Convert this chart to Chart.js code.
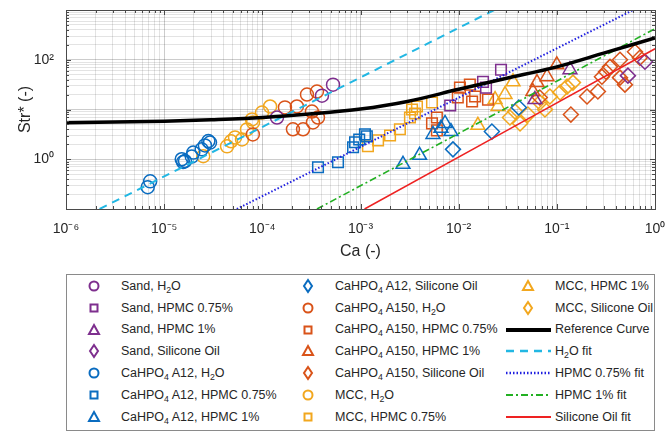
<!DOCTYPE html>
<html>
<head>
<meta charset="utf-8">
<script src="https://cdn.jsdelivr.net/npm/chart.js@4.4.1/dist/chart.umd.min.js"></script>
<style>
  html, body { margin: 0; padding: 0; background: #fff; }
  #wrap { position: relative; width: 667px; height: 431px; overflow: hidden; }
  #chart { position: absolute; left: 0; top: 0; }
  #legend {
    position: absolute; left: 66px; top: 274px; width: 589px; height: 157px;
    box-sizing: border-box; border: 1px solid #8a8a8a; background: #fff;
    display: grid; grid-auto-flow: column;
    grid-template-columns: 214px 220px 1fr;
    grid-template-rows: repeat(7, 21.8px);
    font-family: 'Liberation Sans', Arial, sans-serif; font-size: 12.5px; color: #262626;
  }
  .item { display: flex; align-items: center; white-space: nowrap; }
  .item svg { flex: none; }
  .item sub { font-size: 70%; vertical-align: -3px; line-height: 0; }
</style>
</head>
<body>
<div id="wrap">
  <canvas id="chart" width="667" height="262"></canvas>
  <div id="legend"></div>
</div>
<script>
(function() {
  'use strict';

  // axis ticks
  var xTickValues = [1e-6, 1e-5, 1e-4, 1e-3, 1e-2, 1e-1, 1];
  var xTickLabels = ['10⁻⁶', '10⁻⁵', '10⁻⁴', '10⁻³', '10⁻²', '10⁻¹', '10⁰'];
  var yTickValues = [1, 100];
  var yTickLabels = ['10⁰', '10²'];

  // [Ca, Str*] pairs
  var sandH2O = [[1.41e-4, 6.9], [4.05e-4, 19], [5.25e-4, 31.6]];
  var sandHPMC075 = [[8.2e-3, 12], [1.77e-2, 36], [1.9e-2, 27.5], [2.7e-2, 63]];
  var sandHPMC1 = [[5.98e-2, 15.8], [0.136, 63]];
  var sandSil = [[0.53, 47.9], [0.79, 91]];

  var a12H2O = [[6.8e-6, 0.275], [7.2e-6, 0.36], [1.51e-5, 1.0], [1.56e-5, 0.88], [1.63e-5, 0.92],
    [1.91e-5, 1.13], [1.98e-5, 1.36], [2.41e-5, 1.58], [2.6e-5, 1.9], [2.82e-5, 2.32], [2.93e-5, 2.16]];
  var a12HPMC075 = [[3.69e-4, 0.69], [5.9e-4, 0.87], [8.4e-4, 1.74], [8.8e-4, 2.19], [9.7e-4, 2.5],
    [1.11e-3, 3.16], [1.16e-3, 2.88]];
  var a12HPMC1 = [[2.71e-3, 0.79], [4.0e-3, 1.2], [5.47e-3, 3.16], [6.6e-3, 4.2], [7.26e-3, 5.25], [8.35e-3, 3.6]];
  var a12Sil = [[8.75e-3, 1.58], [2.18e-2, 3.6], [4.1e-2, 11]];

  var a150H2O = [[8.0e-5, 3.16], [1.7e-4, 11], [2.05e-4, 4.0], [2.25e-4, 11.5], [2.6e-4, 4.0],
    [2.85e-4, 20], [3.2e-4, 9.1], [3.28e-4, 5.5], [3.6e-4, 23], [3.69e-4, 6.9]];
  var a150HPMC075 = [[5.35e-3, 5.25], [6.0e-3, 6.9], [6.0e-3, 3.8], [9.8e-3, 17.4], [1.03e-2, 27.5],
    [1.3e-2, 31.6], [1.37e-2, 14.5], [1.47e-2, 18.2], [1.99e-2, 15.8]];
  var a150HPMC1 = [[5.7e-2, 23], [6.28e-2, 34.7], [7.94e-2, 45.7], [0.1, 79]];
  var a150Sil = [[6.7e-2, 17.4], [0.139, 7.9], [0.203, 18.2], [0.262, 23], [0.288, 45.7], [0.317, 57.5],
    [0.348, 72], [0.44, 100], [0.44, 43.7], [0.494, 31.6], [0.625, 145], [0.70, 110]];

  var mccH2O = [[2.5e-5, 1.15], [4.37e-5, 1.82], [4.8e-5, 2.3], [5.27e-5, 2.75], [6.21e-5, 2.5],
    [6.98e-5, 3.98], [7.85e-5, 6.3], [8.04e-5, 5.5], [9.93e-5, 8.7], [1.2e-4, 11.5]];
  var mccHPMC075 = [[1.19e-3, 1.82], [1.51e-3, 2.4], [2.0e-3, 3.0], [2.52e-3, 4.0], [3.19e-3, 6.9],
    [3.35e-3, 10], [3.59e-3, 8.3], [3.76e-3, 11.5], [5.35e-3, 13.8]];
  var mccHPMC1 = [[1.57e-2, 4.8], [2.35e-2, 15.8], [2.52e-2, 11.5], [2.97e-2, 20], [3.58e-2, 36]];
  var mccSil = [[3.33e-2, 6.9], [3.75e-2, 9.1], [4.22e-2, 5.25], [5.08e-2, 7.9], [6.73e-2, 13.8],
    [7.57e-2, 10], [8.5e-2, 18.2], [0.108, 21.9], [0.127, 28.8], [0.146, 34.7]];

  // reference curve and fits
  var refCa = [1e-6, 1e-5, 3e-5, 1e-4, 3e-4, 1e-3, 3e-3, 1e-2, 3e-2, 1e-1, 3e-1, 1];
  var refStr = [5.42, 5.83, 6.25, 6.92, 8.1, 10.2, 14.5, 25.5, 42, 72, 136, 275];
  var h2oFit = [[2.2e-6, 0.1], [2.3e-2, 1000]];
  var hpmc075Fit = [[5.5e-5, 0.1], [0.6, 1000]];
  var hpmc1Fit = [[3.6e-4, 0.1], [1, 420]];
  var silFit = [[1.1e-3, 0.1], [1, 166]];

  var colors = {
    sand: '#7E2F8E',
    a12: '#0A6CC0',
    a150: '#D95319',
    mcc: '#F2A71E',
    text: '#262626'
  };

  var radius = { circle: 6.5, rect: 7.5, triangle: 8, rectRot: 7.5 };

  function pts(arr) {
    return arr.map(function(p) { return { x: p[0], y: p[1] }; });
  }

  function markers(label, data, color, style) {
    return {
      label: label,
      data: pts(data),
      pointStyle: style,
      pointRadius: radius[style],
      pointBorderWidth: 1.5,
      borderColor: color,
      backgroundColor: 'rgba(0,0,0,0)',
      pointBackgroundColor: 'rgba(0,0,0,0)',
      showLine: false,
      order: 1
    };
  }

  function line(label, data, color, width, dash) {
    return {
      label: label,
      data: pts(data),
      showLine: true,
      borderColor: color,
      borderWidth: width,
      borderDash: dash,
      pointRadius: 0,
      fill: false,
      cubicInterpolationMode: 'monotone',
      order: 0
    };
  }

  var datasets = [
    markers('Sand, H₂O', sandH2O, colors.sand, 'circle'),
    markers('Sand, HPMC 0.75%', sandHPMC075, colors.sand, 'rect'),
    markers('Sand, HPMC 1%', sandHPMC1, colors.sand, 'triangle'),
    markers('Sand, Silicone Oil', sandSil, colors.sand, 'rectRot'),
    markers('CaHPO₄ A12, H₂O', a12H2O, colors.a12, 'circle'),
    markers('CaHPO₄ A12, HPMC 0.75%', a12HPMC075, colors.a12, 'rect'),
    markers('CaHPO₄ A12, HPMC 1%', a12HPMC1, colors.a12, 'triangle'),
    markers('CaHPO₄ A12, Silicone Oil', a12Sil, colors.a12, 'rectRot'),
    markers('CaHPO₄ A150, H₂O', a150H2O, colors.a150, 'circle'),
    markers('CaHPO₄ A150, HPMC 0.75%', a150HPMC075, colors.a150, 'rect'),
    markers('CaHPO₄ A150, HPMC 1%', a150HPMC1, colors.a150, 'triangle'),
    markers('CaHPO₄ A150, Silicone Oil', a150Sil, colors.a150, 'rectRot'),
    markers('MCC, H₂O', mccH2O, colors.mcc, 'circle'),
    markers('MCC, HPMC 0.75%', mccHPMC075, colors.mcc, 'rect'),
    markers('MCC, HPMC 1%', mccHPMC1, colors.mcc, 'triangle'),
    markers('MCC, Silicone Oil', mccSil, colors.mcc, 'rectRot'),
    line('Reference Curve', refCa.map(function(c, i) { return [c, refStr[i]]; }), '#000000', 3.5, []),
    line('H₂O fit', h2oFit, '#22B7E3', 2, [8, 6]),
    line('HPMC 0.75% fit', hpmc075Fit, '#1F1FE0', 2, [1.5, 2]),
    line('HPMC 1% fit', hpmc1Fit, '#22B022', 1.6, [7, 3, 2, 3]),
    line('Silicone Oil fit', silFit, '#EE2222', 1.6, [])
  ];

  function logTicks(e0, e1) {
    var out = [];
    for (var e = e0; e < e1; e++) {
      for (var m = 1; m <= 9; m++) out.push({ value: Number(m + 'e' + e) });
    }
    out.push({ value: Number('1e' + e1) });
    return out;
  }

  function isDecade(v) {
    var l = Math.log10(v);
    return Math.abs(l - Math.round(l)) < 1e-9;
  }

  function labelFor(v, values, labels) {
    for (var i = 0; i < values.length; i++) {
      if (Math.abs(Math.log10(v) - Math.log10(values[i])) < 1e-9) return labels[i];
    }
    return '';
  }

  function gridColor(ctx) {
    return ctx.tick && isDecade(ctx.tick.value) ? 'rgba(0,0,0,0.2)' : 'rgba(0,0,0,0.11)';
  }

  function noPadding(scale) {
    scale.paddingLeft = 0; scale.paddingRight = 0;
    scale.paddingTop = 0; scale.paddingBottom = 0;
  }

  var tickFont = { family: "'Liberation Sans', Arial, sans-serif", size: 14 };
  var titleFont = { family: "'Liberation Sans', Arial, sans-serif", size: 16 };

  // box around the plot plus inward tick marks, MATLAB style
  var boxPlugin = {
    id: 'box',
    afterDatasetsDraw: function(chart) {
      var a = chart.chartArea, c = chart.ctx;
      c.save();
      c.strokeStyle = '#4a4a4a';
      c.lineWidth = 1;
      c.beginPath();
      chart.scales.x.ticks.forEach(function(t) {
        var px = Math.round(chart.scales.x.getPixelForValue(t.value)) + 0.5;
        var len = isDecade(t.value) ? 5 : 3;
        c.moveTo(px, a.bottom); c.lineTo(px, a.bottom - len);
        c.moveTo(px, a.top); c.lineTo(px, a.top + len);
      });
      chart.scales.y.ticks.forEach(function(t) {
        var py = Math.round(chart.scales.y.getPixelForValue(t.value)) + 0.5;
        var len = isDecade(t.value) ? 5 : 3;
        c.moveTo(a.left, py); c.lineTo(a.left + len, py);
        c.moveTo(a.right, py); c.lineTo(a.right - len, py);
      });
      c.stroke();
      c.strokeRect(Math.round(a.left) + 0.5, Math.round(a.top) + 0.5,
        Math.round(a.right - a.left), Math.round(a.bottom - a.top));
      c.restore();
    }
  };

  var chart = new Chart(document.getElementById('chart').getContext('2d'), {
    type: 'scatter',
    data: { datasets: datasets },
    plugins: [boxPlugin],
    options: {
      responsive: false,
      animation: false,
      events: [],
      layout: { padding: { top: 10, right: 12, left: 0, bottom: 0 } },
      plugins: { legend: { display: false }, tooltip: { enabled: false } },
      scales: {
        x: {
          type: 'logarithmic',
          min: 1e-6,
          max: 1,
          afterBuildTicks: function(scale) { scale.ticks = logTicks(-6, 0); },
          afterFit: function(scale) { scale.height = 53; noPadding(scale); },
          grid: { color: gridColor, drawTicks: false },
          border: { display: false },
          ticks: {
            autoSkip: false, maxRotation: 0, padding: 12,
            color: colors.text, font: tickFont,
            callback: function(v) { return labelFor(v, xTickValues, xTickLabels); }
          },
          title: { display: true, text: 'Ca (-)', color: colors.text, font: titleFont, padding: { top: 0, bottom: 1 } }
        },
        y: {
          type: 'logarithmic',
          min: 0.1,
          max: 1000,
          afterBuildTicks: function(scale) { scale.ticks = logTicks(-1, 3); },
          afterFit: function(scale) { scale.width = 66; noPadding(scale); },
          grid: { color: gridColor, drawTicks: false },
          border: { display: false },
          ticks: {
            autoSkip: false, padding: 12,
            color: colors.text, font: tickFont,
            callback: function(v) { return labelFor(v, yTickValues, yTickLabels); }
          },
          title: { display: true, text: 'Str* (-)', color: colors.text, font: titleFont, padding: { top: 16, bottom: 0 } }
        }
      }
    }
  });

  // legend, three columns filled top to bottom
  function icon(ds) {
    var c = ds.borderColor, s = '';
    if (ds.showLine) {
      var dash = ds.borderDash && ds.borderDash.length ? ' stroke-dasharray="' + ds.borderDash.join(' ') + '"' : '';
      s = '<line x1="5" y1="11" x2="50" y2="11" stroke="' + c + '" stroke-width="' + (ds.borderWidth + 0.5) + '"' + dash + '/>';
    } else {
      var a = 'fill="none" stroke="' + c + '" stroke-width="2"';
      if (ds.pointStyle === 'circle') s = '<circle cx="27" cy="11" r="4.5" ' + a + '/>';
      else if (ds.pointStyle === 'rect') s = '<rect x="23.5" y="7.5" width="7" height="7" ' + a + '/>';
      else if (ds.pointStyle === 'triangle') s = '<polygon points="27,6 32,15 22,15" ' + a + '/>';
      else s = '<polygon points="27,5 31,11 27,17 23,11" ' + a + '/>';
    }
    return '<svg width="54" height="22" viewBox="0 0 54 22">' + s + '</svg>';
  }

  var html = chart.data.datasets.map(function(ds) {
    var text = ds.label.replace(/₂/g, '<sub>2</sub>').replace(/₄/g, '<sub>4</sub>');
    return '<div class="item">' + icon(ds) + '<span>' + text + '</span></div>';
  }).join('');
  document.getElementById('legend').innerHTML = html;
})();
</script>
</body>
</html>
